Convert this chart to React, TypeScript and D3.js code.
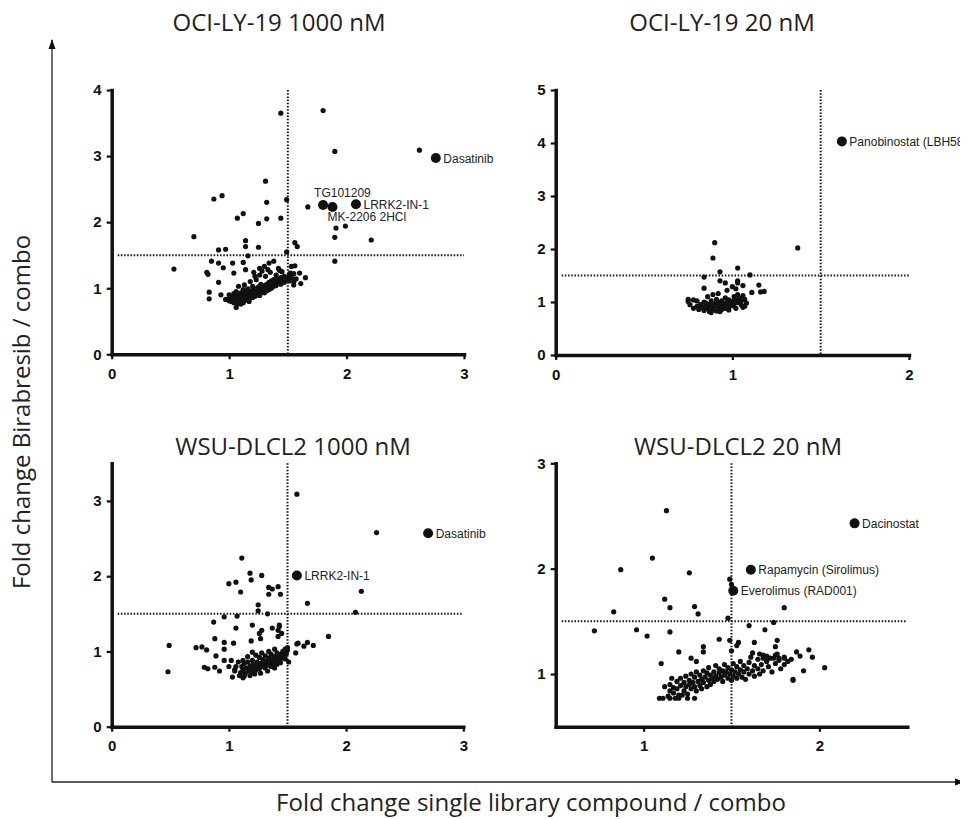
import React, { useEffect, useRef } from "react";
import * as d3 from "d3";

type Pt = [number, number];
type Hit = { name: string; x: number; y: number };

// ---- data ----

const oci1000Points: Pt[] = [
  [1.44, 3.65], [1.8, 3.69], [1.9, 3.07], [2.62, 3.09], [1.31, 2.62], [0.87, 2.35], [0.94, 2.4],
  [1.32, 2.3], [1.49, 2.34], [1.67, 2.23], [1.12, 2.13], [1.07, 2.06], [1.25, 1.98], [1.32, 2.05],
  [1.44, 2.06], [1.91, 1.91], [1.99, 1.94], [1.9, 1.77], [2.21, 1.73], [1.9, 1.41], [0.7, 1.78],
  [1.14, 1.72], [1.14, 1.63], [1.25, 1.62], [1.56, 1.69], [1.58, 1.63], [0.53, 1.29], [0.91, 1.58],
  [0.97, 1.59], [1.16, 1.49], [1.49, 1.55], [0.85, 1.41], [0.91, 1.38], [0.95, 1.31], [1.03, 1.38],
  [1.12, 1.39], [0.81, 1.24], [0.82, 1.21], [1.04, 1.23], [1.14, 1.28], [1.21, 1.24], [1.26, 1.3],
  [1.3, 1.33], [1.34, 1.38], [1.38, 1.41], [1.33, 1.28], [1.43, 1.27], [1.53, 1.33], [1.56, 1.34],
  [1.52, 1.23], [1.6, 1.23], [1.65, 1.16], [1.55, 1.05], [1.61, 1.07], [0.91, 1.09], [0.83, 0.94],
  [0.83, 0.84], [0.93, 0.9], [1.06, 0.71], [1.1, 0.76],
  [1.0, 0.84], [1.0, 0.9], [1.02, 0.8], [1.02, 0.87], [1.04, 0.85], [1.04, 0.92], [1.05, 0.81],
  [1.06, 0.88], [1.06, 0.95], [1.08, 0.83], [1.08, 0.9], [1.09, 0.86], [1.1, 0.8], [1.1, 0.93],
  [1.1, 0.88], [1.12, 0.84], [1.12, 0.91], [1.12, 0.98], [1.13, 0.87], [1.14, 0.82], [1.14, 0.94],
  [1.15, 0.89], [1.15, 0.86], [1.16, 0.92], [1.16, 0.99], [1.17, 0.84], [1.18, 0.88], [1.18, 0.95],
  [1.19, 0.9], [1.2, 0.86], [1.2, 0.97], [1.2, 1.03], [1.21, 0.92], [1.22, 0.88], [1.22, 0.95],
  [1.23, 0.99], [1.24, 0.9], [1.24, 0.94], [1.25, 1.02], [1.25, 0.97], [1.26, 0.92], [1.26, 0.89],
  [1.27, 0.99], [1.27, 1.06], [1.28, 0.94], [1.29, 1.01], [1.29, 0.97], [1.3, 0.93], [1.3, 1.04],
  [1.31, 0.99], [1.32, 1.06], [1.32, 0.96], [1.33, 1.02], [1.34, 0.98], [1.34, 1.09], [1.35, 1.04],
  [1.36, 1.0], [1.36, 1.11], [1.37, 1.06], [1.38, 1.03], [1.38, 1.13], [1.4, 1.08], [1.4, 1.04],
  [1.41, 1.14], [1.42, 1.1], [1.44, 1.06], [1.44, 1.16], [1.45, 1.12], [1.47, 1.09], [1.47, 1.18],
  [1.49, 1.14], [1.51, 1.11], [1.51, 1.19], [1.53, 1.16], [1.55, 1.1], [1.55, 1.22], [1.57, 1.14],
  [1.08, 1.03], [1.13, 1.05], [1.18, 1.1], [1.23, 1.13], [1.26, 1.2], [1.31, 1.18], [1.35, 1.24],
  [1.28, 1.26], [1.22, 1.18], [1.4, 1.2], [1.45, 1.25], [1.42, 1.3], [1.04, 0.78], [1.07, 0.76],
  [1.12, 0.78], [1.17, 0.8], [1.0, 0.81], [0.97, 0.83],
];
const oci1000Hits: Hit[] = [
  { name: "Dasatinib", x: 2.76, y: 2.97 },
  { name: "TG101209", x: 1.8, y: 2.26 },
  { name: "MK-2206 2HCl", x: 1.88, y: 2.23 },
  { name: "LRRK2-IN-1", x: 2.08, y: 2.27 },
];

const oci20Points: Pt[] = [
  [1.37, 2.02], [0.9, 2.12], [0.89, 1.83], [0.93, 1.57], [1.03, 1.64], [1.1, 1.51], [0.84, 1.47],
  [0.93, 1.4], [0.96, 1.36], [1.03, 1.4], [1.03, 1.36], [1.15, 1.32], [1.0, 1.29], [0.84, 1.26],
  [1.06, 1.31], [1.11, 1.18], [1.16, 1.19], [1.18, 1.2], [0.75, 1.05], [0.75, 1.01], [0.78, 1.04],
  [1.06, 0.9], [1.02, 1.25], [0.97, 1.22],
  [0.78, 0.88], [0.8, 0.92], [0.81, 0.86], [0.82, 0.95], [0.83, 0.9], [0.84, 0.84], [0.85, 0.93],
  [0.85, 0.98], [0.86, 0.88], [0.87, 0.82], [0.87, 0.95], [0.88, 0.91], [0.88, 1.02], [0.89, 0.86],
  [0.9, 0.97], [0.9, 0.93], [0.91, 0.83], [0.91, 1.05], [0.92, 0.89], [0.92, 0.99], [0.93, 0.94],
  [0.94, 0.86], [0.94, 1.02], [0.95, 0.91], [0.95, 0.97], [0.96, 1.08], [0.96, 0.88], [0.97, 0.94],
  [0.97, 1.0], [0.98, 0.91], [0.98, 1.04], [0.99, 0.97], [1.0, 1.01], [1.0, 0.93], [1.01, 1.1],
  [1.01, 0.96], [1.02, 1.04], [1.03, 0.99], [1.03, 1.14], [1.04, 1.07], [1.05, 1.02], [1.05, 0.95],
  [1.06, 1.12], [1.07, 1.05], [0.86, 1.1], [0.89, 1.14], [0.92, 1.16], [0.84, 1.0], [0.8, 1.02],
  [0.76, 0.95], [0.88, 0.8], [0.93, 0.82], [0.98, 0.85], [1.02, 0.88], [1.07, 0.92], [1.08, 0.98],
];
const oci20Hits: Hit[] = [{ name: "Panobinostat (LBH589)", x: 1.62, y: 4.03 }];

const wsu1000Points: Pt[] = [
  [1.58, 3.09], [2.26, 2.58], [1.11, 2.24], [1.18, 2.04], [1.19, 1.95], [1.28, 2.01], [1.0, 1.9],
  [1.06, 1.92], [1.1, 1.79], [1.34, 1.85], [1.37, 1.83], [1.34, 1.76], [1.42, 1.86], [1.44, 1.76],
  [2.13, 1.8], [1.67, 1.64], [1.25, 1.62], [1.25, 1.54], [2.08, 1.52], [1.07, 1.47], [0.96, 1.46],
  [0.87, 1.39], [1.33, 1.5], [1.2, 1.35], [1.06, 1.31], [1.37, 1.31], [1.43, 1.35], [1.43, 1.33],
  [1.28, 1.28], [1.26, 1.24], [1.42, 1.28], [1.45, 1.24], [1.27, 1.17], [1.19, 1.14], [1.42, 1.2],
  [0.88, 1.17], [0.96, 1.12], [1.04, 1.11], [0.49, 1.08], [0.72, 1.05], [0.77, 1.06], [0.81, 1.02],
  [0.96, 1.03], [1.85, 1.2], [1.58, 1.1], [1.59, 1.11], [1.67, 1.12], [1.72, 1.08], [1.64, 1.07],
  [1.57, 0.98], [1.5, 1.05], [1.51, 0.86], [0.89, 0.94], [0.96, 0.88], [0.79, 0.79], [0.82, 0.77],
  [0.88, 0.79], [0.92, 0.74], [1.02, 0.88], [1.0, 0.8], [1.05, 0.76], [1.03, 0.66], [1.09, 0.68],
  [1.12, 0.65], [1.2, 0.99], [0.48, 0.73],
  [1.1, 0.72], [1.11, 0.8], [1.12, 0.76], [1.13, 0.84], [1.14, 0.71], [1.15, 0.78], [1.16, 0.86],
  [1.17, 0.74], [1.18, 0.81], [1.19, 0.77], [1.2, 0.88], [1.2, 0.72], [1.21, 0.83], [1.22, 0.79],
  [1.23, 0.75], [1.24, 0.86], [1.25, 0.81], [1.26, 0.92], [1.26, 0.77], [1.27, 0.84], [1.28, 0.8],
  [1.29, 0.89], [1.3, 0.83], [1.31, 0.78], [1.31, 0.94], [1.32, 0.87], [1.33, 0.82], [1.34, 0.91],
  [1.35, 0.85], [1.36, 0.96], [1.36, 0.8], [1.37, 0.89], [1.38, 0.84], [1.39, 0.93], [1.4, 0.88],
  [1.41, 0.98], [1.41, 0.83], [1.42, 0.92], [1.43, 0.87], [1.44, 0.96], [1.45, 0.91], [1.46, 1.0],
  [1.47, 0.94], [1.48, 1.03], [1.49, 0.97], [1.5, 1.02], [1.48, 0.9], [1.44, 0.85], [1.39, 0.78],
  [1.33, 0.74], [1.27, 0.71], [1.22, 0.7], [1.18, 0.68], [1.13, 0.67], [1.12, 0.88], [1.16, 0.93],
  [1.23, 0.95], [1.28, 0.98], [1.34, 1.0], [1.39, 1.03], [1.06, 0.8], [1.08, 0.86], [1.05, 0.74],
];
const wsu1000Hits: Hit[] = [
  { name: "Dasatinib", x: 2.7, y: 2.57 },
  { name: "LRRK2-IN-1", x: 1.58, y: 2.01 },
];

const wsu20Points: Pt[] = [
  [1.13, 2.55], [1.05, 2.1], [0.87, 1.99], [1.26, 1.96], [1.49, 1.9], [1.5, 1.85], [1.12, 1.71],
  [1.15, 1.63], [1.29, 1.64], [1.31, 1.57], [1.8, 1.63], [0.83, 1.59], [1.48, 1.53], [1.74, 1.49],
  [0.72, 1.41], [0.96, 1.42], [1.15, 1.4], [1.02, 1.36], [1.6, 1.46], [1.69, 1.42], [1.43, 1.33],
  [1.49, 1.32], [1.54, 1.3], [1.63, 1.3], [1.76, 1.32], [1.34, 1.26], [1.34, 1.21], [1.2, 1.21],
  [1.5, 1.22], [1.53, 1.27], [1.75, 1.26], [1.87, 1.21], [1.94, 1.23], [1.96, 1.16], [1.89, 1.17],
  [1.27, 1.15], [1.3, 1.12], [1.1, 1.1], [2.03, 1.06], [1.91, 1.03], [1.85, 0.95], [1.85, 0.94],
  [1.09, 0.77], [1.11, 0.77], [1.15, 0.77], [1.18, 0.77], [1.2, 0.77], [1.25, 0.77], [1.29, 0.77],
  [1.68, 1.15], [1.71, 1.15], [1.74, 1.15], [1.77, 1.15], [1.8, 1.15],
  [1.15, 0.84], [1.15, 0.9], [1.17, 0.87], [1.17, 0.82], [1.19, 0.93], [1.19, 0.86], [1.2, 0.8],
  [1.21, 0.89], [1.21, 0.96], [1.23, 0.84], [1.23, 0.92], [1.24, 0.98], [1.24, 0.88], [1.25, 0.81],
  [1.26, 0.94], [1.26, 0.9], [1.27, 0.86], [1.27, 1.0], [1.28, 0.92], [1.29, 0.88], [1.29, 0.97],
  [1.3, 0.84], [1.3, 1.02], [1.31, 0.93], [1.32, 0.89], [1.32, 0.99], [1.33, 0.95], [1.33, 0.86],
  [1.34, 1.03], [1.34, 0.92], [1.35, 0.97], [1.36, 0.88], [1.36, 1.01], [1.37, 0.94], [1.37, 1.06],
  [1.38, 0.99], [1.38, 0.9], [1.39, 0.96], [1.4, 1.02], [1.4, 0.93], [1.41, 1.08], [1.41, 0.98],
  [1.42, 0.95], [1.43, 1.01], [1.43, 1.05], [1.44, 0.97], [1.45, 0.93], [1.45, 1.03], [1.46, 1.09],
  [1.46, 0.99], [1.47, 1.02], [1.48, 0.96], [1.48, 1.06], [1.49, 1.0], [1.5, 1.04], [1.5, 0.94],
  [1.51, 1.1], [1.51, 0.98], [1.52, 1.02], [1.53, 0.96], [1.53, 1.07], [1.54, 1.0], [1.55, 1.04],
  [1.55, 1.12], [1.56, 0.97], [1.57, 1.02], [1.57, 1.08], [1.58, 0.95], [1.59, 1.05], [1.6, 1.0],
  [1.6, 1.11], [1.61, 1.16], [1.62, 1.03], [1.63, 0.98], [1.63, 1.08], [1.65, 1.05], [1.65, 1.14],
  [1.66, 1.0], [1.67, 1.09], [1.68, 1.18], [1.68, 1.03], [1.7, 1.12], [1.71, 1.07], [1.72, 1.15],
  [1.73, 1.02], [1.75, 1.1], [1.75, 1.18], [1.77, 1.13], [1.78, 1.05], [1.8, 1.16], [1.8, 1.09],
  [1.82, 1.12], [1.84, 1.14], [1.12, 0.88], [1.16, 0.96], [1.14, 0.79], [1.22, 0.8], [1.62, 1.2],
  [1.66, 1.19], [1.7, 1.17], [1.76, 1.19],
];
const wsu20Hits: Hit[] = [
  { name: "Dacinostat", x: 2.2, y: 2.43 },
  { name: "Rapamycin (Sirolimus)", x: 1.61, y: 1.99 },
  { name: "Everolimus (RAD001)", x: 1.51, y: 1.79 },
];

const panelTitles = ["OCI-LY-19 1000 nM", "OCI-LY-19 20 nM", "WSU-DLCL2 1000 nM", "WSU-DLCL2 20 nM"];
const threshold = 1.5;

// ---- layout ----
const W = 968;
const H = 819;

const panels = [
  { title: panelTitles[0], points: oci1000Points, hits: oci1000Hits, xDomain: [0, 3], yDomain: [0, 4],
    xTicks: [0, 1, 2, 3], yTicks: [0, 1, 2, 3, 4], left: 111.7, right: 464, top: 90, bottom: 354.3, titleX: 279, titleY: 31 },
  { title: panelTitles[1], points: oci20Points, hits: oci20Hits, xDomain: [0, 2], yDomain: [0, 5],
    xTicks: [0, 1, 2], yTicks: [0, 1, 2, 3, 4, 5], left: 555.7, right: 909, top: 90, bottom: 355, titleX: 722, titleY: 31 },
  { title: panelTitles[2], points: wsu1000Points, hits: wsu1000Hits, xDomain: [0, 3], yDomain: [0, 3.5],
    xTicks: [0, 1, 2, 3], yTicks: [0, 1, 2, 3], left: 111.7, right: 463.3, top: 463.3, bottom: 726.7, titleX: 293, titleY: 455 },
  { title: panelTitles[3], points: wsu20Points, hits: wsu20Hits, xDomain: [0.5, 2.5], yDomain: [0.5, 3],
    xTicks: [1, 2], yTicks: [1, 2, 3], left: 555.7, right: 907.3, top: 463.3, bottom: 726.7, titleX: 738, titleY: 455 },
];

// label offsets for the named compounds
const labelOffset: Record<string, [number, number]> = {
  TG101209: [-9, -8],
  "MK-2206 2HCl": [-5, 14],
};

const App = () => {
  const svgRef = useRef<SVGSVGElement>(null);

  useEffect(() => {
    const svg = d3.select(svgRef.current);
    svg.selectAll("*").remove();

    const defs = svg.append("defs");
    defs
      .append("marker")
      .attr("id", "arrow")
      .attr("viewBox", "0 0 10 10")
      .attr("refX", 9)
      .attr("refY", 5)
      .attr("markerWidth", 10)
      .attr("markerHeight", 10)
      .attr("markerUnits", "userSpaceOnUse")
      .attr("orient", "auto")
      .append("path")
      .attr("d", "M0,1.5 L10,5 L0,8.5 Z")
      .attr("fill", "#111");

    // big frame arrows
    svg.append("line").attr("x1", 52).attr("y1", 782).attr("x2", 52).attr("y2", 40)
      .attr("stroke", "#222").attr("stroke-width", 1.3).attr("marker-end", "url(#arrow)");
    svg.append("line").attr("x1", 52).attr("y1", 782).attr("x2", 964).attr("y2", 782)
      .attr("stroke", "#222").attr("stroke-width", 1.3).attr("marker-end", "url(#arrow)");

    svg.append("text")
      .attr("transform", "translate(30,412) rotate(-90)")
      .attr("text-anchor", "middle")
      .style("font-family", "'Open Sans', sans-serif")
      .style("font-size", "24px")
      .attr("fill", "#222")
      .text("Fold change Birabresib / combo");

    svg.append("text")
      .attr("x", 531)
      .attr("y", 811)
      .attr("text-anchor", "middle")
      .style("font-family", "'Open Sans', sans-serif")
      .style("font-size", "24px")
      .attr("fill", "#222")
      .text("Fold change single library compound / combo");

    panels.forEach((p) => {
      const g = svg.append("g");
      const x = d3.scaleLinear().domain(p.xDomain).range([p.left, p.right]);
      const y = d3.scaleLinear().domain(p.yDomain).range([p.bottom, p.top]);

      g.append("text")
        .attr("x", p.titleX)
        .attr("y", p.titleY)
        .attr("text-anchor", "middle")
        .style("font-family", "'Open Sans', sans-serif")
        .style("font-size", "24px")
        .attr("fill", "#222")
        .text(p.title);

      // dotted threshold lines
      g.append("line")
        .attr("x1", p.left + 6).attr("x2", p.right)
        .attr("y1", y(threshold)).attr("y2", y(threshold))
        .attr("stroke", "#111").attr("stroke-width", 2).attr("stroke-dasharray", "1.5,1.7");
      g.append("line")
        .attr("x1", x(threshold)).attr("x2", x(threshold))
        .attr("y1", p.top).attr("y2", p.bottom)
        .attr("stroke", "#111").attr("stroke-width", 2).attr("stroke-dasharray", "1.5,1.7");

      const xAxis = d3.axisBottom(x).tickValues(p.xTicks).tickFormat(d3.format("d")).tickSize(5).tickSizeOuter(0).tickPadding(9);
      const yAxis = d3.axisLeft(y).tickValues(p.yTicks).tickFormat(d3.format("d")).tickSize(5).tickSizeOuter(0).tickPadding(5);

      const xg = g.append("g").attr("transform", `translate(0,${p.bottom})`).call(xAxis);
      const yg = g.append("g").attr("transform", `translate(${p.left},0)`).call(yAxis);
      [xg, yg].forEach((ax) => {
        ax.attr("font-size", 15).attr("font-family", "'Liberation Sans', Arial, sans-serif").attr("font-weight", "bold");
        ax.select(".domain").attr("stroke", "#111").attr("stroke-width", 3.5).attr("stroke-linecap", "square");
        ax.selectAll(".tick line").attr("stroke", "#111").attr("stroke-width", 2.2);
        ax.selectAll(".tick text").attr("fill", "#111");
      });

      g.selectAll(".pt")
        .data(p.points)
        .join("circle")
        .attr("cx", (d) => x(d[0]))
        .attr("cy", (d) => y(d[1]))
        .attr("r", 2.6)
        .attr("fill", "#111");

      g.selectAll(".hit")
        .data(p.hits)
        .join("circle")
        .attr("cx", (d) => x(d.x))
        .attr("cy", (d) => y(d.y))
        .attr("r", 5)
        .attr("fill", "#111");

      g.selectAll(".hitlabel")
        .data(p.hits)
        .join("text")
        .attr("x", (d) => x(d.x) + (labelOffset[d.name] ? labelOffset[d.name][0] : 7.5))
        .attr("y", (d) => y(d.y) + (labelOffset[d.name] ? labelOffset[d.name][1] : 4.5))
        .style("font-family", "'Liberation Sans', Arial, sans-serif")
        .style("font-size", "12px")
        .attr("fill", "#222")
        .text((d) => d.name);
    });
  }, []);

  return (
    <div style={{ width: W, height: H, background: "white" }}>
      <svg ref={svgRef} width={W} height={H} style={{ display: "block", marginLeft: -8, marginTop: -8 }}></svg>
    </div>
  );
};

export default App;
